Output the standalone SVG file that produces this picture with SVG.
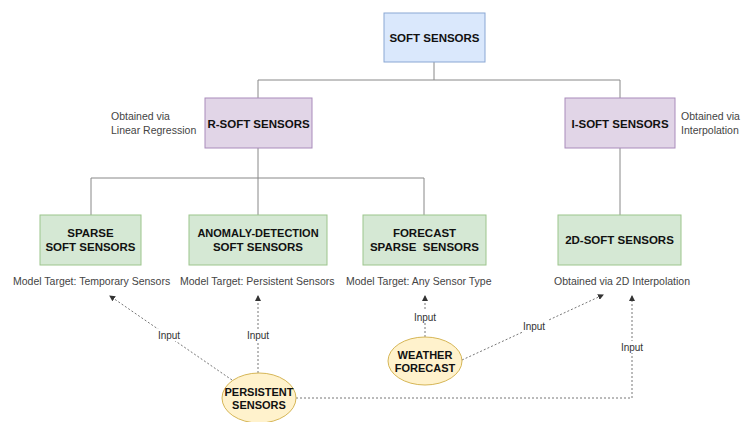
<svg xmlns="http://www.w3.org/2000/svg" width="744" height="422" viewBox="0 0 744 422">
<defs>
<style>
.box{stroke-width:1}
.blue{fill:#dae8fc;stroke:#8aa7d4}
.purple{fill:#e1d5e7;stroke:#a98bbb}
.green{fill:#d5e8d4;stroke:#9cc58c}
.yellow{fill:#fff2cc;stroke:#d6b656}
.t{font-family:"Liberation Sans",Arial,sans-serif;font-weight:bold;font-size:11.5px;fill:#111;text-anchor:middle}
.te{font-family:"Liberation Sans",Arial,sans-serif;font-weight:bold;font-size:11px;fill:#111;text-anchor:middle}
.lbl{font-family:"Liberation Sans",Arial,sans-serif;font-size:10.5px;fill:#444}
.in{font-family:"Liberation Sans",Arial,sans-serif;font-size:10px;fill:#333;text-anchor:middle}
.tree{fill:none;stroke:#888;stroke-width:1}
.dot{fill:none;stroke:#777;stroke-width:1;stroke-dasharray:2,2}
</style>
<marker id="ah" viewBox="0 0 6 6" refX="5" refY="3" markerWidth="6" markerHeight="6" orient="auto" markerUnits="userSpaceOnUse">
<path d="M0,0 L6,3 L0,6 Z" fill="#333"/>
</marker>
</defs>
<rect width="744" height="422" fill="#fff"/>
<g id="connectors">
<path class="tree" d="M434,62 V80 M258,80 H620 M258,80 V98 M620,80 V98"/>
<path class="tree" d="M258,148 V178 M91,178 H424 M91,178 V215 M258,178 V215 M424,178 V215"/>
<path class="tree" d="M620,148 V215"/>
<path class="dot" d="M232,380 L110,296" marker-end="url(#ah)"/>
<path class="dot" d="M258,373 V296" marker-end="url(#ah)"/>
<path class="dot" d="M425,337 V296" marker-end="url(#ah)"/>
<path class="dot" d="M462,360 L603,295" marker-end="url(#ah)"/>
<path class="dot" d="M296,398 H632 V296" marker-end="url(#ah)"/>
<rect x="154" y="329" width="30" height="12" fill="#fff"/>
<text class="in" x="169" y="339">Input</text>
<rect x="243" y="329" width="30" height="12" fill="#fff"/>
<text class="in" x="258" y="339">Input</text>
<rect x="410" y="311" width="30" height="12" fill="#fff"/>
<text class="in" x="425" y="321">Input</text>
<rect x="519" y="320" width="30" height="12" fill="#fff"/>
<text class="in" x="534" y="330">Input</text>
<rect x="617" y="341" width="30" height="12" fill="#fff"/>
<text class="in" x="632" y="351">Input</text>
</g>
<g id="soft-sensors">
<rect class="box blue" x="384" y="13" width="101" height="49"/>
<text class="t" x="434.5" y="42">SOFT SENSORS</text>
</g>
<g id="r-soft">
<rect class="box purple" x="205" y="98" width="107" height="50"/>
<text class="t" x="258.5" y="128">R-SOFT SENSORS</text>
<text class="lbl" x="111" y="120">Obtained via</text>
<text class="lbl" x="111" y="134">Linear Regression</text>
</g>
<g id="i-soft">
<rect class="box purple" x="565" y="98" width="110" height="50"/>
<text class="t" x="620" y="128">I-SOFT SENSORS</text>
<text class="lbl" x="681" y="120">Obtained via</text>
<text class="lbl" x="681" y="134">Interpolation</text>
</g>
<g id="sparse">
<rect class="box green" x="40" y="215" width="101" height="50"/>
<text class="t" x="90.5" y="237">SPARSE</text>
<text class="t" x="90.5" y="251">SOFT SENSORS</text>
<text class="lbl" x="13" y="285">Model Target: Temporary Sensors</text>
</g>
<g id="anomaly">
<rect class="box green" x="189" y="215" width="138" height="50"/>
<text class="te" x="258" y="237">ANOMALY-DETECTION</text>
<text class="t" x="258" y="251">SOFT SENSORS</text>
<text class="lbl" x="180" y="285">Model Target: Persistent Sensors</text>
</g>
<g id="forecast">
<rect class="box green" x="363" y="215" width="123" height="50"/>
<text class="t" x="424.5" y="237">FORECAST</text>
<text class="t" x="424.5" y="251" xml:space="preserve">SPARSE  SENSORS</text>
<text class="lbl" x="346" y="285">Model Target: Any Sensor Type</text>
</g>
<g id="twod">
<rect class="box green" x="558" y="215" width="123" height="50"/>
<text class="t" x="619.5" y="244">2D-SOFT SENSORS</text>
<text class="lbl" x="554" y="285">Obtained via 2D Interpolation</text>
</g>
<g id="persistent">
<ellipse class="yellow" cx="259" cy="398" rx="37" ry="25"/>
<text class="te" x="259" y="396">PERSISTENT</text>
<text class="te" x="259" y="409">SENSORS</text>
</g>
<g id="weather">
<ellipse class="yellow" cx="425" cy="361" rx="37" ry="24"/>
<text class="te" x="425" y="359">WEATHER</text>
<text class="te" x="425" y="372">FORECAST</text>
</g>
</svg>
